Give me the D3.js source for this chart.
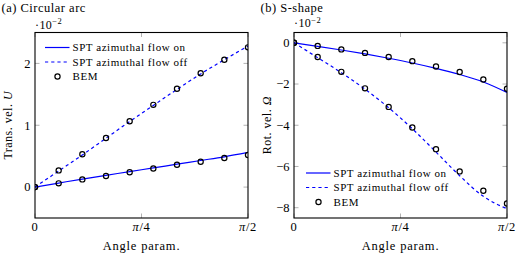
<!DOCTYPE html>
<html><head><meta charset="utf-8">
<script src="https://cdn.jsdelivr.net/npm/d3@7"></script>
<style>
body{margin:0;background:#fff}
svg{display:block}
svg text{font-family:"Liberation Serif","Times New Roman",Times,serif;fill:#000}
</style>
</head><body>
<svg id="c" width="518" height="257"></svg>
<script>
// ---- data (angle parameter in degrees; values ×10^-2) ----
const angleDeg = [0, 10, 20, 30, 40, 50, 60, 70, 80, 90];
const xTickDeg = [0, 45, 90];
const xTickLabels = ["0", "π/4", "π/2"];

// (a) Circular arc — translational velocity U
const arcOnLine  = [0, 0.065, 0.13, 0.19, 0.25, 0.31, 0.37, 0.43, 0.49, 0.56];
const arcOffLine = [0, 0.26, 0.52, 0.79, 1.06, 1.32, 1.58, 1.83, 2.06, 2.28];
const arcBemOn   = [0, 0.06, 0.124, 0.18, 0.24, 0.30, 0.36, 0.41, 0.47, 0.52];
const arcBemOff  = [0, 0.27, 0.53, 0.795, 1.065, 1.33, 1.59, 1.84, 2.06, 2.26];
const arcYTicks  = [0, 1, 2];

// (b) S-shape — rotational velocity Omega
const sOnLine  = [0, -0.17, -0.35, -0.54, -0.75, -0.98, -1.24, -1.54, -1.9, -2.41];
const sOffLine = [0, -0.72, -1.45, -2.25, -3.15, -4.17, -5.3, -6.45, -7.45, -8.05];
const sBemOn   = [0, -0.15, -0.32, -0.49, -0.69, -0.89, -1.15, -1.42, -1.78, -2.23];
const sBemOff  = [0, -0.69, -1.41, -2.21, -3.11, -4.11, -5.16, -6.24, -7.18, -7.8];
const sYTicks  = [-8, -6, -4, -2, 0];

const legendLabels = ["SPT azimuthal flow on", "SPT azimuthal flow off", "BEM"];

const svg = d3.select("#c");
const BLUE = "#0000ff";
const TICKC = "#a0a0a0";

const panels = [
  {id:"a", title:"(a) Circular arc", x0:35, x1:248, y0:32.5, y1:218, dom:[-0.5,2.5],
   yt:arcYTicks, on:arcOnLine, off:arcOffLine, bOn:arcBemOn, bOff:arcBemOff,
   ylab:[{t:"Trans. vel. "},{t:"U",it:true}], ylabX:12, expY:28.5, legX:45, legY:47.5,
   titleX:1.5},
  {id:"b", title:"(b) S-shape", x0:294, x1:507, y0:32.5, y1:218, dom:[-8.5,0.5],
   yt:sYTicks, on:sOnLine, off:sOffLine, bOn:sBemOn, bOff:sBemOff,
   ylab:[{t:"Rot. vel. "},{t:"Ω",it:true}], ylabX:270.5, expY:27, legX:306, legY:173,
   titleX:260.5}
];

panels.forEach(p => {
  const x = d3.scaleLinear().domain([0, 90]).range([p.x0, p.x1]);
  const y = d3.scaleLinear().domain(p.dom).range([p.y1, p.y0]);
  const g = svg.append("g");

  g.append("clipPath").attr("id", "clip" + p.id)
    .append("rect").attr("x", p.x0).attr("y", p.y0)
    .attr("width", p.x1 - p.x0).attr("height", p.y1 - p.y0);

  // inner ticks (both sides)
  const tk = g.append("g").attr("stroke", TICKC).attr("stroke-width", 0.8);
  xTickDeg.forEach(d => {
    tk.append("line").attr("x1", x(d)).attr("x2", x(d)).attr("y1", p.y1).attr("y2", p.y1 - 4.5);
    tk.append("line").attr("x1", x(d)).attr("x2", x(d)).attr("y1", p.y0).attr("y2", p.y0 + 4.5);
  });
  p.yt.forEach(v => {
    tk.append("line").attr("x1", p.x0).attr("x2", p.x0 + 4.5).attr("y1", y(v)).attr("y2", y(v));
    tk.append("line").attr("x1", p.x1).attr("x2", p.x1 - 4.5).attr("y1", y(v)).attr("y2", y(v));
  });

  // tick labels
  xTickDeg.forEach((d, i) => {
    const t = g.append("text").attr("x", x(d)).attr("y", 231).attr("text-anchor", "middle")
      .attr("font-size", 12.5).attr("letter-spacing", 0.6);
    const lab = xTickLabels[i];
    if (lab.startsWith("π")) {
      t.append("tspan").attr("font-style", "italic").text("π");
      t.append("tspan").text(lab.slice(1));
    } else t.text(lab);
  });
  p.yt.forEach(v => {
    g.append("text").attr("x", p.x0 - 4.5).attr("y", y(v)).attr("dy", "0.34em")
      .attr("text-anchor", "end").attr("font-size", 12.5)
      .text(v < 0 ? "−" + Math.abs(v) : String(v));
  });

  // exponent
  const ex = g.append("text").attr("x", p.x0).attr("y", p.expY).attr("font-size", 12)
    .attr("letter-spacing", 0.4);
  ex.append("tspan").text("·10");
  ex.append("tspan").attr("dy", -4.5).attr("font-size", 8.5).text("−2");

  // title
  g.append("text").attr("x", p.titleX).attr("y", 12).attr("font-size", 12.5)
    .attr("letter-spacing", 0.5).text(p.title);

  // axis labels
  g.append("text").attr("x", (p.x0 + p.x1) / 2).attr("y", 250).attr("text-anchor", "middle")
    .attr("font-size", 12.5).attr("letter-spacing", 0.8).text("Angle param.");
  const yl = g.append("text").attr("transform", `translate(${p.ylabX},${(p.y0 + p.y1) / 2}) rotate(-90)`)
    .attr("text-anchor", "middle").attr("font-size", 12).attr("letter-spacing", 0.5);
  p.ylab.forEach(s => yl.append("tspan").attr("font-style", s.it ? "italic" : null).text(s.t));

  // lines
  const line = d3.line().x((d, i) => x(angleDeg[i])).y(d => y(d)).curve(d3.curveMonotoneX);
  const cg = g.append("g").attr("clip-path", `url(#clip${p.id})`);
  cg.append("path").datum(p.on).attr("d", line).attr("fill", "none")
    .attr("stroke", BLUE).attr("stroke-width", 1.2);
  cg.append("path").datum(p.off).attr("d", line).attr("fill", "none")
    .attr("stroke", BLUE).attr("stroke-width", 1.2).attr("stroke-dasharray", "3.2,3");

  // BEM markers
  [p.bOn, p.bOff].forEach(arr => {
    cg.selectAll(null).data(arr).enter().append("circle")
      .attr("cx", (d, i) => x(angleDeg[i])).attr("cy", d => y(d)).attr("r", 2.6)
      .attr("fill", "none").attr("stroke", "#000").attr("stroke-width", 1.2);
  });

  // frame
  g.append("rect").attr("x", p.x0).attr("y", p.y0).attr("width", p.x1 - p.x0)
    .attr("height", p.y1 - p.y0).attr("fill", "none").attr("stroke", "#000").attr("stroke-width", 1.1);

  // legend
  const lg = g.append("g").attr("transform", `translate(${p.legX},${p.legY})`);
  legendLabels.forEach((lab, i) => {
    const yy = i * 14.5;
    if (i < 2) {
      lg.append("line").attr("x1", 0).attr("x2", 24.5).attr("y1", yy).attr("y2", yy)
        .attr("stroke", BLUE).attr("stroke-width", 1.2)
        .attr("stroke-dasharray", i === 1 ? "3.2,3" : null);
    } else {
      lg.append("circle").attr("cx", 12.5).attr("cy", yy).attr("r", 2.6)
        .attr("fill", "none").attr("stroke", "#000").attr("stroke-width", 1.2);
    }
    lg.append("text").attr("x", 27.5).attr("y", yy).attr("dy", "0.34em")
      .attr("font-size", 11).attr("letter-spacing", 0.55).text(lab);
  });
});
</script>
</body></html>
